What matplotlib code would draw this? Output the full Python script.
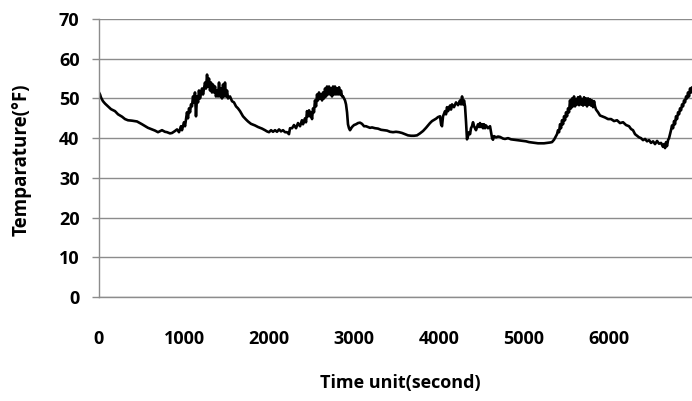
import numpy as np
import matplotlib.pyplot as plt

# temperature log (time in seconds, temp in F)
time_s = [0, 12, 24, 47, 71, 106, 141, 188, 224, 271, 306, 341, 388, 447, 506,
          576, 624, 659, 694, 741, 776, 800, 835, 859, 894, 918, 941, 965, 976,
          1000, 1012, 1035, 1047, 1059, 1071, 1082, 1094, 1106, 1118, 1129, 1141,
          1153, 1165, 1176, 1188, 1212, 1224, 1247, 1259, 1271, 1282, 1294, 1306,
          1318, 1329, 1341, 1353, 1365, 1376, 1388, 1400, 1412, 1424, 1435, 1447,
          1459, 1471, 1482, 1494, 1506, 1518, 1541, 1565, 1588, 1612, 1635, 1659,
          1694, 1729, 1753, 1788, 1835, 1871, 1918, 1953, 1976, 2000, 2024, 2047,
          2071, 2094, 2118, 2141, 2165, 2188, 2212, 2235, 2247, 2271, 2294, 2318,
          2341, 2365, 2388, 2400, 2424, 2435, 2447, 2459, 2471, 2482, 2494, 2506,
          2518, 2529, 2541, 2553, 2565, 2576, 2588, 2600, 2612, 2624, 2635, 2647,
          2659, 2671, 2682, 2694, 2706, 2718, 2729, 2741, 2753, 2765, 2776, 2788,
          2800, 2812, 2824, 2835, 2847, 2859, 2871, 2894, 2906, 2918, 2929, 2941,
          2953, 2976, 3000, 3024, 3047, 3071, 3094, 3118, 3141, 3165, 3188, 3212,
          3247, 3282, 3318, 3353, 3388, 3424, 3459, 3494, 3529, 3565, 3600, 3635,
          3671, 3706, 3741, 3776, 3812, 3847, 3871, 3894, 3918, 3941, 3965, 3988,
          4012, 4024, 4035, 4047, 4071, 4082, 4094, 4106, 4129, 4141, 4153, 4176,
          4200, 4224, 4247, 4259, 4271, 4282, 4294, 4306, 4318, 4329, 4341, 4353,
          4365, 4376, 4388, 4400, 4412, 4424, 4435, 4447, 4459, 4471, 4482, 4494,
          4506, 4518, 4529, 4541, 4553, 4576, 4600, 4612, 4624, 4635, 4647, 4671,
          4694, 4718, 4753, 4776, 4812, 4847, 4882, 4918, 4953, 4988, 5024, 5059,
          5094, 5129, 5165, 5200, 5235, 5271, 5306, 5329, 5353, 5376, 5388, 5400,
          5412, 5424, 5435, 5447, 5459, 5471, 5482, 5494, 5506, 5518, 5529, 5541,
          5553, 5565, 5576, 5588, 5600, 5612, 5624, 5635, 5647, 5659, 5671, 5682,
          5694, 5706, 5718, 5729, 5741, 5753, 5765, 5776, 5788, 5800, 5812, 5824,
          5835, 5847, 5871, 5894, 5918, 5953, 5988, 6024, 6059, 6094, 6129, 6165,
          6200, 6235, 6259, 6282, 6306, 6329, 6353, 6376, 6400, 6424, 6447, 6471,
          6494, 6518, 6541, 6565, 6588, 6612, 6635, 6647, 6659, 6671, 6682, 6694,
          6706, 6718, 6729, 6741, 6753, 6765, 6776, 6788, 6800, 6812, 6824, 6835,
          6847, 6859, 6871, 6882, 6894, 6906, 6918, 6929, 6941, 6953, 6965, 6976]

temp_f = [51.5, 51.0, 50.2, 49.3, 48.7, 48.0, 47.3, 46.8, 46.0, 45.4, 44.8, 44.5, 44.4, 44.2, 43.5,
          42.6, 42.2, 41.9, 41.5, 42.0, 41.6, 41.5, 41.2, 41.3, 41.8, 42.2, 41.5, 43.0, 42.0,
          44.0, 43.0, 46.5, 45.0, 47.5, 46.5, 48.5, 48.0, 50.5, 49.0, 51.5, 45.5,
          50.5, 49.0, 52.0, 50.0, 52.5, 51.0, 54.0, 52.5, 56.0, 53.0, 55.0, 52.0,
          54.0, 51.5, 53.5, 51.5, 53.0, 50.5, 52.0, 50.5, 54.0, 50.5, 52.5, 50.0,
          53.5, 50.5, 54.0, 50.5, 52.0, 50.0, 50.5, 49.3, 49.0, 48.0, 47.5, 46.8,
          45.5, 44.7, 44.2, 43.6, 43.2, 42.8, 42.4, 42.0, 41.7, 41.5, 42.0, 41.6,
          42.0, 41.6, 42.2, 41.7, 42.0, 41.5, 41.5, 41.0, 42.5, 42.5, 43.3, 42.5,
          43.8, 43.0, 44.5, 43.5, 45.0, 44.0, 46.8, 45.5, 47.0, 45.5, 46.5, 44.8,
          47.5, 46.5, 49.5, 48.0, 51.0, 49.5, 51.5, 50.0, 51.0, 49.5, 51.5, 50.0,
          52.5, 50.5, 53.0, 51.0, 53.0, 51.0, 52.5, 50.5, 53.0, 51.0, 53.0, 51.0,
          52.5, 51.0, 52.8, 51.0, 52.0, 50.5, 50.5, 49.5, 48.5, 46.5, 43.5, 42.5,
          42.0, 42.8, 43.3, 43.5, 43.8, 43.9, 43.6, 43.0, 43.0, 42.8, 42.6, 42.7,
          42.5, 42.4, 42.1, 42.0, 41.9, 41.6, 41.5, 41.6, 41.5, 41.3, 41.0, 40.7,
          40.6, 40.6, 40.7, 41.2, 41.8, 42.6, 43.2, 43.8, 44.3, 44.6, 44.9, 45.3,
          45.5, 43.5, 43.0, 45.5, 46.8, 46.0, 47.8, 46.8, 48.2, 47.2, 48.5, 47.8,
          49.0, 48.3, 49.5, 48.5, 50.5, 48.5, 49.5, 48.0, 44.0, 39.7, 40.5, 41.5,
          41.0, 42.5, 43.0, 44.0, 43.0, 42.5, 42.0, 42.8, 43.5, 42.8, 43.8, 42.8,
          43.5, 42.5, 43.5, 42.5, 43.2, 42.5, 43.0, 41.5, 40.0, 39.6, 40.5, 40.2,
          40.4, 40.3, 39.9, 39.8, 40.0, 39.7, 39.6, 39.5, 39.4, 39.3, 39.2, 39.0,
          38.9, 38.8, 38.7, 38.7, 38.7, 38.8, 38.9, 39.0, 39.6, 40.5, 41.0, 42.0,
          41.5, 43.5, 42.5, 44.5, 43.5, 45.5, 44.5, 46.5, 45.5, 47.5, 46.5, 49.5,
          47.5, 50.0, 48.0, 50.5, 48.0, 49.8, 48.5, 50.3, 48.3, 50.5, 48.5, 49.8,
          48.2, 50.3, 48.5, 50.0, 48.0, 50.0, 48.5, 49.8, 48.2, 49.5, 47.8, 49.3,
          48.0, 47.2, 46.5, 45.7, 45.5, 45.2, 44.8, 44.8, 44.3, 44.5, 43.8, 44.0,
          43.3, 43.0, 42.3, 42.0, 41.0, 40.6, 40.2, 40.0, 39.5, 39.8, 39.2, 39.5,
          38.8, 39.2, 38.5, 39.3, 38.6, 38.8, 37.8, 38.5, 37.5, 39.0, 38.0, 39.5,
          40.0, 41.0, 42.0, 43.2, 42.5, 44.3, 43.5, 45.5, 44.8, 46.5, 46.0, 47.5,
          47.0, 48.5, 48.0, 49.5, 49.0, 50.5, 50.0, 51.5, 50.5, 52.5, 51.5, 52.7]

x_ticks = [0, 1000, 2000, 3000, 4000, 5000, 6000]
y_ticks = [0, 10, 20, 30, 40, 50, 60, 70]

plt.rcParams['font.family'] = ['Open Sans', 'DejaVu Sans']

fig = plt.figure(figsize=(6.92, 4.01), dpi=100)
ax = fig.add_axes([99 / 692, 1 - 297 / 401, 593 / 692, 278 / 401])

ax.plot(time_s, temp_f, color='black', lw=1.9)

ax.set_xlim(0, 6976)
ax.set_ylim(0, 70)
ax.set_xticks(x_ticks)
ax.set_yticks(y_ticks)
ax.grid(axis='y', color='#8c8c8c', lw=1)
ax.set_axisbelow(True)

for s in ['top', 'right']:
    ax.spines[s].set_visible(False)
for s in ['left', 'bottom']:
    ax.spines[s].set_color('#8c8c8c')
    ax.spines[s].set_linewidth(1)

ax.tick_params(axis='y', length=5, width=1, color='#8c8c8c', pad=9, labelsize=13)
ax.tick_params(axis='x', length=0, pad=24, labelsize=13)
for lab in ax.get_xticklabels() + ax.get_yticklabels():
    lab.set_fontweight('bold')

fig.text(400 / 692, 1 - 383 / 401, 'Time unit(second)', ha='center', va='center',
         fontsize=13, fontweight='bold')
fig.text(22 / 692, 1 - 160 / 401, 'Temparature(°F)', ha='center', va='center',
         rotation=90, fontsize=13.5, fontweight='bold')

fig.savefig('out.png', dpi=100)
